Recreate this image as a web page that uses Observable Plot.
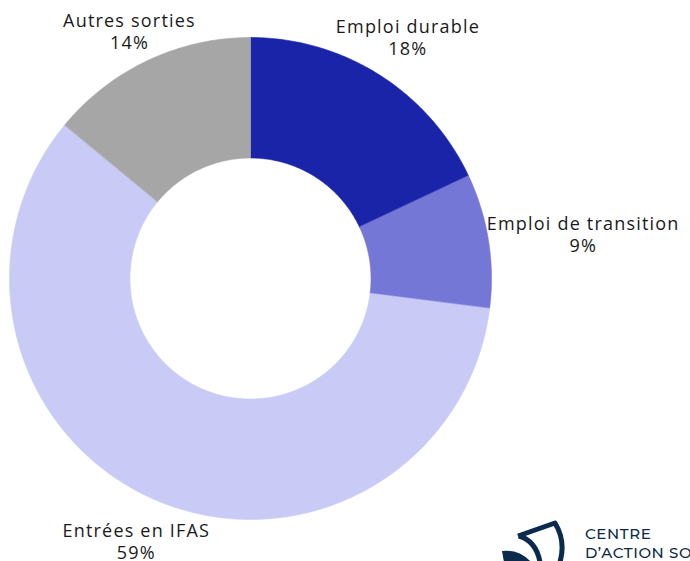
<!DOCTYPE html>
<html>
<head>
<meta charset="utf-8">
<script src="https://cdn.jsdelivr.net/npm/d3@7"></script>
<script src="https://cdn.jsdelivr.net/npm/@observablehq/plot@0.6"></script>
<style>
  html, body { margin: 0; padding: 0; background: #fff; }
  #wrap { position: relative; width: 690px; height: 561px; overflow: hidden; }
  #logo { position: absolute; left: 0; top: 0; pointer-events: none; }
</style>
</head>
<body>
<div id="wrap"></div>
<script>
const categories = ["Emploi durable", "Emploi de transition", "Entrées en IFAS", "Autres sorties"];
const values = [18, 9, 59, 14];
const colors = ["#1a24a8", "#7577d7", "#c9cbf6", "#a6a6a6"];

const W = 690, H = 561;
const margin = {top: 37, right: 199, bottom: 42, left: 9};
const innerRatio = 0.5;
const fontSize = 18;
const lineHeight = 1.25;
const letterSpacing = 1.2;
const font = `${fontSize}px "Open Sans"`;

const pie = d3.pie().sort(null).value(d => d)(values);

function arcRing(a0, a1, r, n) {
  const pts = [];
  for (let i = 0; i <= n; i++) {
    const a = a0 + (a1 - a0) * i / n;
    pts.push([r * Math.sin(a), -r * Math.cos(a)]);
  }
  return pts;
}

const slices = pie.map((p, i) => {
  const n = Math.max(8, Math.ceil((p.endAngle - p.startAngle) * 80));
  const outer = arcRing(p.startAngle, p.endAngle, 1, n);
  const inner = arcRing(p.endAngle, p.startAngle, innerRatio, n);
  const ring = outer.concat(inner);
  ring.push(ring[0]);
  return {type: "Feature", properties: {name: categories[i], color: colors[i]},
          geometry: {type: "Polygon", coordinates: [ring]}};
});

// label placement: outside end, box pushed outward along the slice mid-angle,
// kept inside the top of the chart area
const k = (H - margin.top - margin.bottom) / 2; // px per unit
const cy = margin.top + k;                       // centre y in px
const ctx = document.createElement("canvas").getContext("2d");
ctx.font = font;
const textW = s => ctx.measureText(s).width + letterSpacing * s.length;
const lineH = fontSize * lineHeight;
const labels = pie.map((p, i) => {
  const a = (p.startAngle + p.endAngle) / 2;
  const dx = Math.sin(a), dy = -Math.cos(a);
  const text = `${categories[i]}\n${values[i]}%`;
  const w = Math.max(textW(categories[i]), textW(values[i] + "%"));
  const h = lineH * 2;
  const px = dx * k + dx * Math.sqrt(Math.abs(dx)) * w / 2;
  let py = dy * k + dy * h;
  const minY = 8 + h / 2 - cy; // keep label top ≥ 8px
  py = Math.max(py, minY);
  return {x: px / k, y: py / k, text};
});

const plot = Plot.plot({
  width: W,
  height: H,
  marginTop: margin.top,
  marginRight: margin.right,
  marginBottom: margin.bottom,
  marginLeft: margin.left,
  projection: {type: "identity", domain: {type: "MultiPoint", coordinates: [[-1, -1], [1, 1]]}, inset: 0, clip: false},
  style: {fontFamily: '"Open Sans", sans-serif', overflow: "visible", background: "#fff"},
  marks: [
    Plot.geo(slices, {fill: d => d.properties.color, stroke: d => d.properties.color, strokeWidth: 0.6}),
    Plot.text(labels, {x: "x", y: "y", text: "text", fontSize, lineHeight, fill: "#1a1a1a",
                       textAnchor: "middle", lineAnchor: "middle"})
  ]
});
plot.querySelectorAll("text").forEach(t => t.style.letterSpacing = letterSpacing + "px");
document.getElementById("wrap").appendChild(plot);

// Logo (partially visible in the corner, as in the reference)
const ns = "http://www.w3.org/2000/svg";
const logo = document.createElementNS(ns, "svg");
logo.setAttribute("id", "logo");
logo.setAttribute("width", W);
logo.setAttribute("height", H);
logo.innerHTML = `
  <path d="M518 536 L555 523 Q566 541 560 562" fill="none" stroke="#0c2a4c" stroke-width="5" stroke-linejoin="round"/>
  <path d="M519 536 Q536 541 540 562" fill="none" stroke="#0c2a4c" stroke-width="5"/>
  <path d="M502 551 Q519 549 531 562 L504 562 Z" fill="#0c2a4c"/>
  <text x="585" y="539" font-family="Montserrat, 'Open Sans', sans-serif" font-size="15" font-weight="500" fill="#0c2a4c" letter-spacing="0.6">CENTRE</text>
  <text x="585" y="558" font-family="Montserrat, 'Open Sans', sans-serif" font-size="15" font-weight="500" fill="#0c2a4c" letter-spacing="0.6">D’ACTION SO</text>
`;
document.getElementById("wrap").appendChild(logo);
</script>
</body>
</html>
